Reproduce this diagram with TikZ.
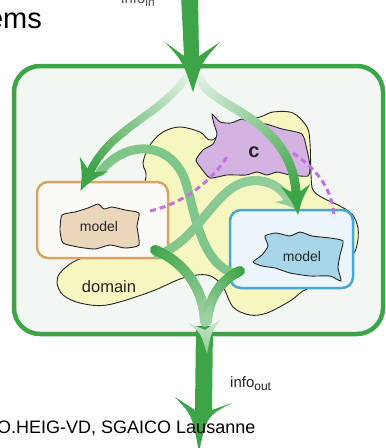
\documentclass[tikz,border=0pt]{standalone}
\usepackage{fontspec}
\setmainfont{Liberation Sans}
\usetikzlibrary{decorations.markings}
\definecolor{gdark}{RGB}{62,164,72}
\definecolor{glight}{RGB}{160,210,165}
\definecolor{gpale}{RGB}{226,242,228}
\definecolor{gmid}{RGB}{128,198,138}
\definecolor{outerfill}{RGB}{242,247,243}
\definecolor{domainfill}{RGB}{246,246,192}
\definecolor{cfill}{RGB}{212,178,226}
\definecolor{dashpurple}{RGB}{196,112,228}
\definecolor{lboxdraw}{RGB}{214,166,104}
\definecolor{lboxfill}{RGB}{252,250,246}
\definecolor{lmodel}{RGB}{234,214,186}
\definecolor{rboxdraw}{RGB}{74,166,210}
\definecolor{rboxfill}{RGB}{236,245,252}
\definecolor{rmodel}{RGB}{168,214,232}
\tikzset{
  gband/.style n args={3}{postaction={decorate, decoration={markings,
    mark=between positions 0 and 1 step 0.8pt with {%
      \pgfmathtruncatemacro\fr{100*(\pgfkeysvalueof{/pgf/decoration/mark info/distance from start}/\pgfdecoratedpathlength)}%
      \fill[#2!\fr!#1] (0,0) circle (#3);}}}},
  ghead/.style n args={3}{postaction={decorate, decoration={markings,
    mark=at position 0.995 with {%
      \fill[#1] ({0.1*#2},0) -- ({-0.2*#2},#3) .. controls ({0.3*#2},{0.35*#3}) .. ({0.8*#2},0)
        .. controls ({0.3*#2},{-0.35*#3}) .. ({-0.2*#2},-#3) -- cycle;}}}},
  outerbox/.style={draw=gdark, line width=4.5pt, fill=outerfill, rounded corners=26pt,
    minimum width=369pt, minimum height=268pt, inner sep=0pt},
  lboxst/.style={draw=lboxdraw, line width=2.5pt, fill=lboxfill, rounded corners=11pt,
    minimum width=131pt, minimum height=76pt, inner sep=0pt},
  rboxst/.style={draw=rboxdraw, line width=2.5pt, fill=rboxfill, rounded corners=11pt,
    minimum width=123pt, minimum height=78pt, inner sep=0pt},
  blobline/.style={draw=black!85, line width=0.9pt},
  lbl/.style={inner sep=0pt, anchor=base, text=black!85},
  dotline/.style={draw=dashpurple, line width=3pt, dash pattern=on 6pt off 4pt},
}
\begin{document}
\begin{tikzpicture}[x=1pt,y=-1pt]
\useasboundingbox (0,0) rectangle (386,448);
% outer system box
\node[outerbox] (sys) at (198.5,200) {};
% domain blob
\draw[blobline, fill=domainfill] plot[smooth cycle, tension=0.55] coordinates {
 (145,182) (143,163) (150,145) (163,132) (180,127) (200,132) (212,140) (235,122)
 (260,117) (273,112) (293,113) (307,127) (310,143) (311,175) (313,190) (323,198)
 (338,205) (352,214) (358,228) (357,245) (350,258) (320,282) (303,291) (290,301)
 (267,313) (250,315) (233,307) (222,285) (207,275) (183,278) (150,292) (107,305)
 (80,303) (63,295) (57,283) (60,273) (73,262) (90,255) (120,240)};
% c blob
\draw[blobline, fill=cfill] plot[smooth cycle, tension=0.35] coordinates {
 (212,114) (220,122) (231,123) (242,119) (252,123) (266,124) (282,129) (302,134)
 (307,150) (310,166) (308,176) (290,175) (277,172) (267,175) (257,172) (246,175)
 (227,175) (210,178) (201,168) (196,160) (203,150) (213,144) (217,134) (214,124)};
\node[lbl, font=\fontsize{20}{22}\selectfont\bfseries] (clbl) at (254,157) {c};
% model boxes
\node[lboxst] (lb) at (102.5,220) {};
\node[rboxst] (rb) at (291.5,249) {};
\draw[blobline, fill=lmodel] plot[smooth cycle, tension=0.35] coordinates {
 (62,215) (75,212) (88,208) (98,204) (104,209) (112,207) (125,210) (139,213)
 (137,226) (139,245) (125,248) (110,245) (95,249) (78,247) (63,243) (60,230)};
\draw[blobline, fill=rmodel] plot[smooth cycle, tension=0.35] coordinates {
 (253,262) (262,255) (268,246) (265,236) (276,233) (290,236) (300,232) (312,236)
 (330,238) (343,241) (340,255) (338,268) (341,281) (330,276) (310,276) (290,273)
 (275,268) (262,266)};
\node[lbl, font=\fontsize{14}{16}\selectfont] (lmod) at (99,231) {model};
\node[lbl, font=\fontsize{14}{16}\selectfont] (rmod) at (302,261) {model};
\node[lbl, font=\fontsize{16.5}{18}\selectfont] (dom) at (109,292) {domain};
% light green flows
\draw[gmid, line width=9pt, line cap=round] (100,172) .. controls (125,140) and (170,140) .. (185,180)
   .. controls (195,210) and (200,265) .. (236,274);
\path[gband={gmid}{gmid!85!white}{4.5pt}, ghead={gmid!85!white}{22}{13}] (158,255) .. controls (200,240) and (215,185) .. (250,181)
   .. controls (270,179) and (280,188) .. (288,198);
% branches from input
\path[gband={gpale}{gdark}{4pt}, ghead={gdark}{30}{16}] (186,78) .. controls (160,115) and (112,128) .. (91,170);
\path[gband={gpale}{gdark}{4.5pt}, ghead={gdark}{30}{15}] (200,78) .. controls (208,108) and (290,115) .. (296,192);
% output shaft
\fill[gdark] (196,326) -- (195,410) -- (175,397) .. controls (192,415) .. (199,452)
   .. controls (207,416) .. (232,403) -- (212,410) -- (213,326) -- cycle;
% flows to output
\path[gband={gdark}{glight}{5pt}] (155,250) .. controls (185,262) and (204,290) .. (205,322);
\path[gband={gdark}{glight}{5pt}] (240,271) .. controls (220,280) and (208,300) .. (207,322);
\shade[top color=gpale!60!glight, bottom color=glight!85!gdark] (205,330) -- (188,323) .. controls (201,333) .. (207,354)
   .. controls (211,333) .. (220,320) -- cycle;
% dotted links
\draw[dotline] (150,211) .. controls (185,203) and (212,180) .. (227,157);
\draw[dotline] (293,153) .. controls (318,170) and (333,190) .. (334,218);
% input arrow
\fill[gdark] (181,-5) -- (184,56) -- (165,42) .. controls (183,62) .. (193,92)
   .. controls (202,62) .. (220,42) -- (199,56) -- (198,-5) -- cycle;
% texts
\node[anchor=base east, inner sep=0pt, font=\fontsize{29}{32}\selectfont] (title) at (42,28) {ems};
\node[anchor=base west, inner sep=0pt, font=\fontsize{15}{17}\selectfont, text=black!70] (infoin) at (121,3)
   {info{\fontsize{12}{12}\selectfont\raisebox{-3pt}{in}}};
\node[anchor=base west, inner sep=0pt, font=\fontsize{15}{17}\selectfont, text=black!85] (infoout) at (230,387)
   {info{\fontsize{12}{12}\selectfont\raisebox{-3pt}{out}}};
\node[anchor=base west, inner sep=0pt, font=\fontsize{18}{20}\selectfont] (credit) at (-3,433)
   {O.HEIG-VD, SGAICO Lausanne};
\end{tikzpicture}
\end{document}
